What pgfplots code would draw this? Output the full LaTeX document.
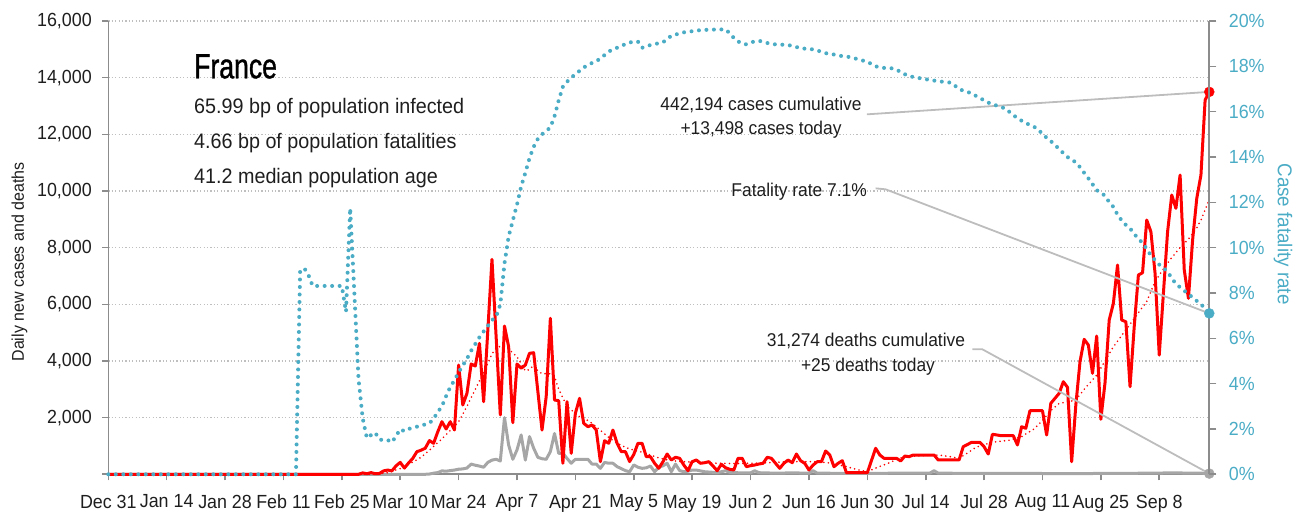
\documentclass[border=0pt]{standalone}
\usepackage{fontspec}
\setmainfont{Liberation Sans}[FakeStretch=0.94]
\newfontfamily\titlefont{Liberation Sans}[FakeStretch=0.76, FakeBold=1]
\usepackage{pgfplots}
\pgfplotsset{compat=1.18}
\definecolor{axgray}{HTML}{8C8C8C}
\definecolor{gridgray}{HTML}{BFBFBF}
\definecolor{cfrblue}{HTML}{4BACC6}
\definecolor{deathgray}{HTML}{A6A6A6}
\definecolor{leader}{HTML}{BDBDBD}
\definecolor{txt}{HTML}{1E1E1E}
\definecolor{casered}{HTML}{FF0000}
\newcommand\tickfont{\fontsize{19}{22}\selectfont}
\newcommand\infofont{\fontsize{21}{24}\selectfont}
\newcommand\annfont{\fontsize{18.5}{22}\selectfont}
\begin{document}
\begin{tikzpicture}
\begin{axis}[
  name=main,
  at={(108.3pt,38.7pt)}, anchor=origin,
  width=1101pt, height=453.3pt, scale only axis,
  xmin=0, xmax=264, ymin=0, ymax=16000,
  clip=false, scaled y ticks=false, scaled x ticks=false,
  axis x line*=bottom, axis y line*=left,
  x axis line style={draw=axgray, line width=1.6pt, -},
  y axis line style={draw=axgray, line width=1.6pt, -},
  xtick={0,14,...,252},
  xticklabels={Dec 31,Jan 14,Jan 28,Feb 11,Feb 25,Mar 10,Mar 24,Apr 7,Apr 21,May 5,May 19,Jun 2,Jun 16,Jun 30,Jul 14,Jul 28,Aug 11,Aug 25,Sep 8},
  ytick={0,2000,...,16000},
  yticklabels={{},{2,000},{4,000},{6,000},{8,000},{10,000},{12,000},{14,000},{16,000}},
  tick align=outside, major tick length=6pt,
  tick style={draw=axgray, line width=1.6pt},
  ymajorgrids,
  grid style={draw=gridgray, line width=1.2pt, dash pattern=on 1.2pt off 2.2pt},
  ticklabel style={font=\tickfont, text=txt},
  xticklabel style={yshift=-11pt},
  yticklabel style={xshift=-7pt},
]
% deaths
\addplot[deathgray, line width=3pt, line join=round] coordinates {
(0,0)(76,0)(77,10)(78,40)(79,60)(80,120)(81,110)(82,130)(83,150)(84,180)(85,190)(86,220)(87,360)(88,320)(89,290)(90,250)(91,420)(92,500)(93,530)(94,470)(95,2000)(96,1030)(97,530)(98,860)(99,1390)(100,500)(101,1330)(102,920)(103,600)(104,550)(105,530)(106,800)(107,1440)(108,740)(109,740)(110,560)(111,390)(112,530)(115,530)(116,360)(117,360)(118,210)(119,420)(120,390)(121,390)(122,270)(123,200)(124,130)(125,90)(126,330)(127,250)(128,210)(129,230)(130,290)(131,90)(132,250)(133,300)(134,390)(135,90)(136,360)(137,130)(138,90)(139,110)(140,150)(141,150)(142,120)(143,90)(144,80)(145,70)(146,56)(147,90)(148,127)(149,70)(150,56)(154,50)(155,127)(156,56)(160,40)(164,50)(168,40)(169,127)(170,40)(180,30)(190,40)(197,40)(198,127)(199,40)(210,30)(220,30)(230,25)(240,30)(250,40)(255,50)(258,45)(262,40)(264,25)};
% cases
\addplot[casered, line width=3pt, line join=round] coordinates {
(0,0)(60,0)(61,50)(62,20)(63,60)(64,20)(65,30)(66,120)(67,150)(68,120)(69,300)(70,420)(71,220)(72,400)(73,560)(74,800)(75,850)(76,920)(77,1190)(78,1094)(79,1500)(80,1857)(81,1600)(82,1857)(83,1563)(84,3857)(85,2446)(86,2858)(87,3893)(88,3822)(89,4623)(90,2562)(92,7588)(94,2093)(95,5233)(96,4503)(97,1821)(98,3893)(99,3741)(100,3857)(101,4270)(102,4291)(104,1563)(105,2740)(106,5505)(107,2622)(108,2597)(109,388)(110,2562)(111,741)(112,2153)(113,2682)(114,1800)(115,1680)(116,1740)(117,1563)(118,445)(119,1186)(120,1094)(121,1563)(122,1094)(123,800)(124,800)(125,450)(126,700)(127,1094)(128,1094)(129,621)(130,621)(131,388)(132,212)(133,445)(134,716)(135,505)(136,600)(137,565)(138,328)(139,127)(140,445)(141,505)(142,388)(143,409)(144,445)(145,293)(146,127)(147,353)(148,233)(149,176)(150,152)(151,565)(152,565)(153,268)(154,304)(155,328)(156,363)(157,388)(158,600)(159,565)(160,388)(161,212)(162,388)(163,505)(164,409)(165,716)(166,480)(167,388)(168,152)(169,328)(170,445)(171,445)(172,822)(173,681)(174,268)(175,388)(176,480)(177,56)(182,56)(184,918)(185,681)(186,565)(189,565)(190,469)(191,646)(192,621)(193,681)(198,681)(199,505)(204,505)(205,974)(206,1050)(207,1129)(209,1129)(210,974)(211,716)(212,1412)(213,1390)(214,1364)(217,1364)(218,1034)(219,1680)(220,1623)(221,2245)(224,2245)(225,1387)(226,2505)(227,2682)(228,2858)(229,3268)(230,3070)(231,445)(232,2446)(233,3974)(234,4764)(235,4563)(236,3564)(237,4880)(238,1941)(239,3233)(240,5445)(241,6034)(242,7386)(243,5445)(244,5385)(245,3092)(246,5209)(247,7034)(248,7114)(249,8974)(250,8562)(251,7093)(252,4210)(253,6388)(254,8562)(255,9857)(256,9387)(257,10562)(258,7210)(259,6211)(260,8269)(261,9740)(262,10562)(263,13209)(264,13498)};
% 7-day trend of cases
\addplot[casered, line width=1.8pt, line cap=round, dash pattern=on 0pt off 4.5pt] coordinates {
(0,0)(63,0)(65,20)(67,60)(70,200)(72,350)(75,600)(77,850)(80,1250)(82,1550)(84,1850)(86,2400)(88,3000)(90,3600)(92,4250)(93,4450)(94,4520)(96,4420)(98,4150)(100,3650)(101,3700)(102,3850)(103,3650)(104,3550)(106,3550)(107,3450)(108,3000)(110,2400)(112,2150)(113,2030)(115,1900)(116,1800)(118,1550)(120,1300)(122,1100)(124,950)(126,850)(128,780)(130,680)(132,580)(134,510)(136,470)(138,445)(142,420)(146,390)(150,380)(155,390)(160,420)(163,445)(170,445)(173,400)(177,270)(180,150)(182,92)(184,220)(187,390)(189,520)(191,620)(195,660)(199,680)(202,620)(204,565)(206,750)(208,950)(210,1050)(213,1150)(216,1200)(219,1330)(222,1600)(224,1900)(226,2250)(228,2500)(230,2560)(232,2620)(234,3000)(237,3500)(239,4000)(241,4500)(243,4900)(245,5300)(247,5700)(249,6100)(251,6800)(253,7250)(255,7650)(257,8000)(259,8300)(261,8700)(262,8974)(264,9700)};
% leader lines
\draw[leader, line width=1.8pt] (axis cs:181.9,12705) -- (axis cs:264,13498);
\draw[leader, line width=1.8pt] (axis cs:184.0,10093) -- (axis cs:186.4,10058) -- (axis cs:264,5680);
\draw[leader, line width=1.8pt] (axis cs:207.2,4411) -- (axis cs:209.6,4411) -- (axis cs:264,25);
\addplot[only marks, mark=*, mark size=5pt, casered] coordinates {(264,13498)};
\addplot[only marks, mark=*, mark size=5pt, deathgray] coordinates {(264,25)};
\end{axis}
\begin{axis}[
  at={(108.3pt,38.7pt)}, anchor=origin,
  width=1101pt, height=453.3pt, scale only axis,
  xmin=0, xmax=264, ymin=0, ymax=20,
  clip=false, scaled y ticks=false,
  axis x line=none, axis y line*=right,
  y axis line style={draw=axgray, line width=1.6pt, -},
  ytick={0,2,...,20},
  yticklabels={0\%,2\%,4\%,6\%,8\%,10\%,12\%,14\%,16\%,18\%,20\%},
  tick align=outside, major tick length=7pt,
  tick style={draw=axgray, line width=1.6pt},
  yticklabel style={font=\tickfont, text=cfrblue, xshift=9pt},
]
\addplot[cfrblue, line width=4pt, line cap=round, dash pattern=on 0pt off 7.5pt] coordinates {
(0,0)(45,0)(46,8.96)(47,9.09)(48,8.79)(49,8.31)(56,8.31)(57,7.17)(58,11.74)(59,8.0)(60,4.2)(61,2.47)(62,1.6)(63,1.73)(64,1.84)(65,1.54)(66,1.5)(67,1.51)(68,1.41)(69,1.69)(70,1.99)(71,1.9)(72,2.0)(73,2.05)(74,2.1)(75,2.15)(76,2.2)(77,2.25)(78,2.45)(79,2.75)(80,3.0)(81,3.45)(82,3.85)(83,4.15)(84,4.5)(85,4.8)(86,5.1)(87,5.45)(88,5.75)(89,6.05)(90,6.3)(91,6.55)(92,6.8)(93,6.95)(94,7.5)(95,9.3)(96,10.5)(97,11.2)(98,11.9)(99,12.7)(100,13.3)(101,13.95)(102,14.45)(103,14.8)(104,15.0)(105,15.15)(106,15.3)(107,15.8)(108,16.5)(109,17.1)(110,17.32)(111,17.5)(112,17.65)(113,17.8)(114,17.95)(115,18.05)(116,18.15)(117,18.22)(118,18.35)(119,18.5)(120,18.65)(121,18.75)(122,18.82)(123,18.9)(124,18.98)(125,19.05)(126,19.09)(127,19.09)(128,18.82)(129,18.88)(130,18.94)(131,18.98)(132,19.02)(133,19.06)(134,19.2)(135,19.35)(136,19.4)(137,19.45)(138,19.5)(139,19.52)(140,19.55)(141,19.57)(142,19.6)(145,19.62)(148,19.63)(149,19.46)(150,19.25)(151,19.1)(152,19.0)(153,18.97)(154,19.05)(155,19.1)(156,19.13)(157,19.08)(158,19.03)(159,18.98)(160,18.97)(163,18.94)(164,18.9)(165,18.85)(166,18.8)(167,18.78)(168,18.76)(169,18.75)(170,18.7)(171,18.64)(172,18.58)(173,18.55)(174,18.52)(175,18.48)(176,18.45)(177,18.43)(178,18.4)(179,18.35)(180,18.3)(181,18.25)(182,18.2)(183,18.1)(184,18.0)(185,17.96)(186,17.93)(188,17.91)(189,17.85)(190,17.75)(191,17.65)(192,17.57)(193,17.53)(194,17.5)(195,17.46)(196,17.43)(197,17.4)(198,17.37)(199,17.35)(200,17.32)(201,17.3)(202,17.28)(203,17.15)(204,16.99)(205,16.93)(206,16.87)(207,16.81)(208,16.7)(209,16.6)(210,16.5)(211,16.4)(212,16.32)(213,16.27)(214,16.2)(215,16.15)(216,16.0)(217,15.85)(218,15.71)(219,15.6)(220,15.5)(221,15.41)(222,15.33)(223,15.22)(224,15.0)(225,14.85)(226,14.7)(227,14.53)(228,14.35)(229,14.17)(230,14.0)(231,13.87)(232,13.77)(233,13.55)(234,13.3)(235,13.06)(236,12.8)(237,12.54)(238,12.4)(239,12.3)(240,12.0)(241,11.8)(242,11.45)(243,11.2)(244,11.0)(245,10.85)(246,10.6)(247,10.4)(248,10.2)(249,9.95)(250,9.65)(251,9.45)(252,9.25)(253,9.1)(254,8.94)(255,8.65)(256,8.4)(257,8.25)(258,8.1)(259,7.95)(260,7.8)(261,7.65)(262,7.51)(263,7.3)(264,7.1)};
\addplot[only marks, mark=*, mark size=5pt, cfrblue] coordinates {(264,7.1)};
\end{axis}
% axis titles
\node[rotate=90, font=\fontsize{17}{20}\selectfont, text=txt] at (19.5pt,251pt) {Daily new cases and deaths};
\node[rotate=-90, font=\fontsize{20}{23}\selectfont, text=cfrblue] at (1283pt,279pt) {Case fatality rate};
% info block
\node[anchor=base west, inner sep=0pt, font=\titlefont\fontsize{35}{40}\selectfont, text=black] at (194pt,434.7pt) {France};
\node[anchor=base west, inner sep=0pt, font=\infofont, text=txt] at (194pt,399.7pt) {65.99 bp of population infected};
\node[anchor=base west, inner sep=0pt, font=\infofont, text=txt] at (194pt,364.7pt) {4.66 bp of population fatalities};
\node[anchor=base west, inner sep=0pt, font=\infofont, text=txt] at (194pt,329.7pt) {41.2 median population age};
% annotations
\node[anchor=base, inner sep=0pt, font=\annfont, text=txt] at (761pt,402.5pt) {442,194 cases cumulative};
\node[anchor=base, inner sep=0pt, font=\annfont, text=txt] at (761pt,378pt) {+13,498 cases today};
\node[anchor=base east, inner sep=0pt, font=\annfont, text=txt] at (867pt,316pt) {Fatality rate 7.1\%};
\node[anchor=base, inner sep=0pt, font=\annfont, text=txt] at (866pt,166.3pt) {31,274 deaths cumulative};
\node[anchor=base, inner sep=0pt, font=\annfont, text=txt] at (868pt,141.3pt) {+25 deaths today};
\pgfresetboundingbox
\path[use as bounding box] (0pt,0pt) rectangle (1310pt,513pt);
\end{tikzpicture}
\end{document}
